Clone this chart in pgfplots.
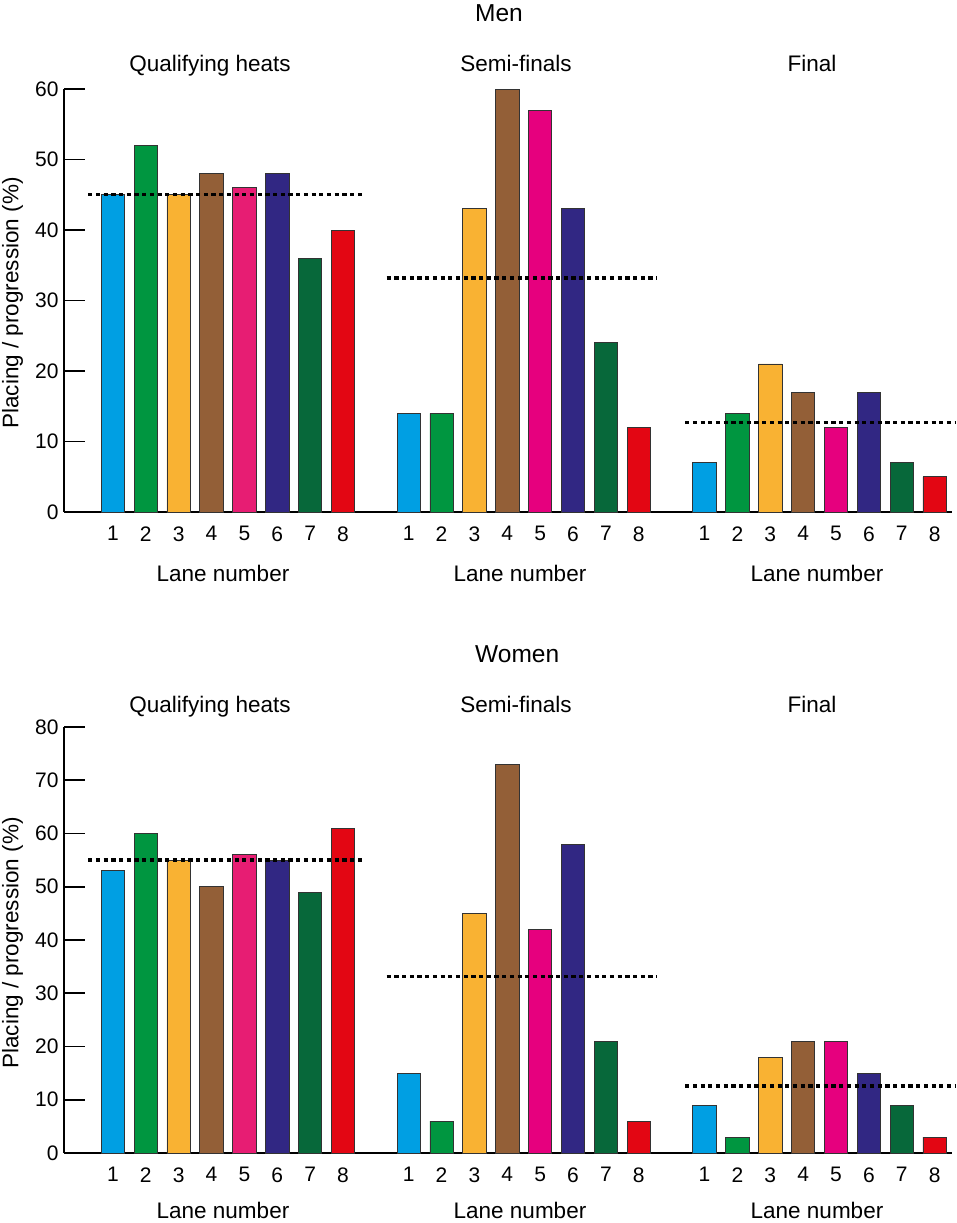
\documentclass[border=0pt]{standalone}
\usepackage{fontspec}
\setmainfont{Liberation Sans}
\usepackage{pgfplots}
\pgfplotsset{compat=1.18}
\definecolor{laneA}{HTML}{009FE3}
\definecolor{laneB}{HTML}{009640}
\definecolor{laneC}{HTML}{F9B233}
\definecolor{laneD}{HTML}{935F37}
\definecolor{laneEq}{HTML}{E71D73}
\definecolor{laneE}{HTML}{E6007E}
\definecolor{laneF}{HTML}{312783}
\definecolor{laneG}{HTML}{07683A}
\definecolor{laneH}{HTML}{E30613}
\pgfplotsset{
  panel/.style={
    scale only axis, width=888pt, anchor=south west,
    xmin=-0.488, xmax=26.53, ymin=0,
    axis x line*=bottom, axis y line*=left,
    axis line style={line width=1.6pt, black},
    tick align=inside, major tick length=21pt,
    ytick style={line width=1.6pt, black},
    xtick style={draw=none},
    xtick={1,2,3,4,5,6,7,8,10,11,12,13,14,15,16,17,19,20,21,22,23,24,25,26},
    xticklabels={1,2,3,4,5,6,7,8,1,2,3,4,5,6,7,8,1,2,3,4,5,6,7,8},
    tick label style={font=\fontsize{21}{25}\selectfont},
    yticklabel style={xshift=-2pt},
    xticklabel style={yshift=-11pt},
    /pgf/number format/assume math mode=true,
    clip=false,
  },
  lanebar/.style={ybar, bar width=0.71, bar shift=0pt, draw=black!80, line width=0.8pt, fill=#1},
  avgline/.style={black, line width=3.4pt, dash pattern=on 4.2pt off 3.5pt},
}
\newcommand{\labfont}{\fontsize{22.5}{27}\selectfont}
\newcommand{\titfont}{\fontsize{24.5}{29}\selectfont}
\begin{document}
\begin{tikzpicture}
\path[use as bounding box] (0,0) rectangle (957pt,-1223pt);
% ---------------- Men ----------------
\begin{axis}[panel, height=423pt, at={(64pt,-512pt)}, ymax=60, ytick={0,10,20,30,40,50,60}]
\addplot[lanebar=laneA] coordinates {(1,45) (10,14) (19,7)};
\addplot[lanebar=laneB] coordinates {(2,52) (11,14) (20,14)};
\addplot[lanebar=laneC] coordinates {(3,45) (12,43) (21,21)};
\addplot[lanebar=laneD] coordinates {(4,48) (13,60) (22,17)};
\addplot[lanebar=laneEq] coordinates {(5,46)};
\addplot[lanebar=laneE] coordinates {(14,57) (23,12)};
\addplot[lanebar=laneF] coordinates {(6,48) (15,43) (24,17)};
\addplot[lanebar=laneG] coordinates {(7,36) (16,24) (25,7)};
\addplot[lanebar=laneH] coordinates {(8,40) (17,12) (26,5)};
\addplot[avgline] coordinates {(0.25,45) (8.57,45)};
\addplot[avgline] coordinates {(9.33,33.2) (17.55,33.2)};
\addplot[avgline] coordinates {(18.41,12.7) (26.62,12.7)};
\end{axis}
% ---------------- Women ----------------
\begin{axis}[panel, height=426pt, at={(64pt,-1153pt)}, ymax=80, ytick={0,10,20,30,40,50,60,70,80}]
\addplot[lanebar=laneA] coordinates {(1,53) (10,15) (19,9)};
\addplot[lanebar=laneB] coordinates {(2,60) (11,6) (20,3)};
\addplot[lanebar=laneC] coordinates {(3,55) (12,45) (21,18)};
\addplot[lanebar=laneD] coordinates {(4,50) (13,73) (22,21)};
\addplot[lanebar=laneEq] coordinates {(5,56)};
\addplot[lanebar=laneE] coordinates {(14,42) (23,21)};
\addplot[lanebar=laneF] coordinates {(6,55) (15,58) (24,15)};
\addplot[lanebar=laneG] coordinates {(7,49) (16,21) (25,9)};
\addplot[lanebar=laneH] coordinates {(8,61) (17,6) (26,3)};
\addplot[avgline] coordinates {(0.25,55) (8.57,55)};
\addplot[avgline] coordinates {(9.33,33.2) (17.55,33.2)};
\addplot[avgline] coordinates {(18.41,12.6) (26.62,12.6)};
\end{axis}
% ---------------- Texts ----------------
\node[anchor=base west, font=\titfont, inner sep=0pt] at (475pt,-22pt) {Men};
\node[anchor=base west, font=\titfont, inner sep=0pt] at (475pt,-662pt) {Women};
\foreach \yy/\zz in {0/581,641/1218.5}{
  \node[anchor=base, font=\labfont, inner sep=0pt] at (210pt,{-71pt-\yy pt}) {Qualifying heats};
  \node[anchor=base, font=\labfont, inner sep=0pt] at (516pt,{-71pt-\yy pt}) {Semi-finals};
  \node[anchor=base, font=\labfont, inner sep=0pt] at (812pt,{-71pt-\yy pt}) {Final};
  \node[anchor=base, font=\labfont, inner sep=0pt] at (223pt,-\zz pt) {Lane number};
  \node[anchor=base, font=\labfont, inner sep=0pt] at (520pt,-\zz pt) {Lane number};
  \node[anchor=base, font=\labfont, inner sep=0pt] at (817pt,-\zz pt) {Lane number};
}
\node[rotate=90, anchor=base, font=\labfont, inner sep=0pt] at (18.3pt,-303pt) {Placing / progression (\%)};
\node[rotate=90, anchor=base, font=\labfont, inner sep=0pt] at (18.3pt,-943pt) {Placing / progression (\%)};
\end{tikzpicture}
\end{document}
